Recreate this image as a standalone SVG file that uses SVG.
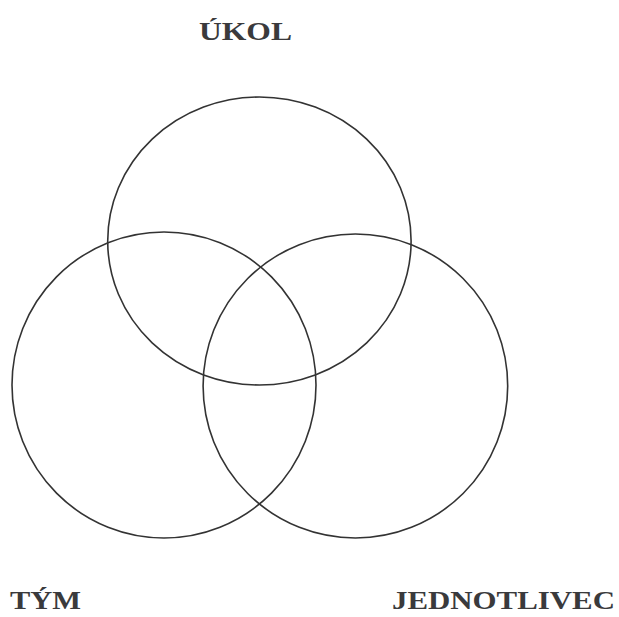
<svg xmlns="http://www.w3.org/2000/svg" width="619" height="617" viewBox="0 0 619 617">
<style>
.c{fill:none;stroke:#333;stroke-width:1.6}
.t{font-family:"Liberation Serif","Times New Roman",serif;font-weight:bold;font-size:26px;fill:#3a3a3c}
</style>
<rect width="619" height="617" fill="#fff"/>
<g id="connectors"></g>
<g id="ukol">
<ellipse class="c" cx="259.4" cy="241" rx="151.7" ry="144"/>
<text class="t" x="199" y="39.5" textLength="93" lengthAdjust="spacingAndGlyphs">ÚKOL</text>
</g>
<g id="tym">
<ellipse class="c" cx="164" cy="385" rx="152" ry="153"/>
<text class="t" x="10" y="609" textLength="71" lengthAdjust="spacingAndGlyphs">TÝM</text>
</g>
<g id="jednotlivec">
<ellipse class="c" cx="355.4" cy="386" rx="152.3" ry="152"/>
<text class="t" x="392" y="609" textLength="223" lengthAdjust="spacingAndGlyphs">JEDNOTLIVEC</text>
</g>
</svg>
